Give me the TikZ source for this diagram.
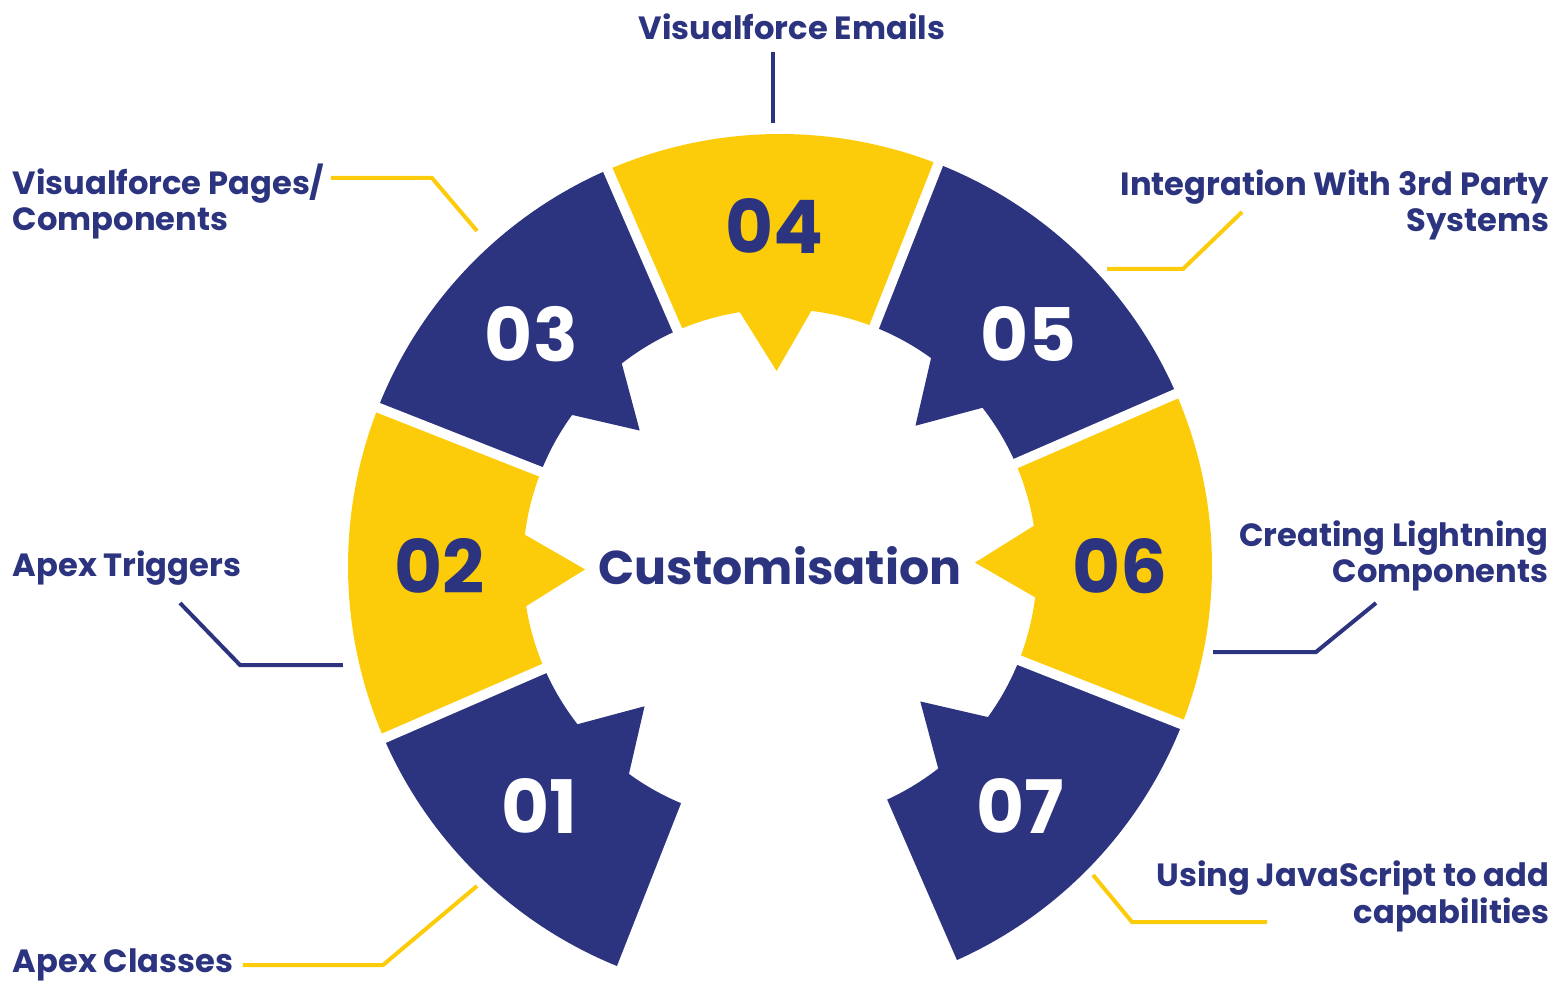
\documentclass[tikz,border=0pt]{standalone}
\usepackage{fontspec}
\setmainfont{Poppins}
\usepackage{tikz}
\usetikzlibrary{calc}
\definecolor{navy}{HTML}{2C3480}
\definecolor{gold}{HTML}{FCCC0A}

\begin{document}
\begin{tikzpicture}[x=0.1mm, y=0.1mm, inner sep=0mm,
		num/.style={font=\fontsize{21}{21}\selectfont\bfseries},
		lab/.style={font=\fontsize{9.15}{10.5}\selectfont\bfseries, text=navy},
		lead/.style={line width=0.4mm}]
	\useasboundingbox (-780,-415) rectangle (787,566);
	\foreach \i/\a/\n/\f/\t in {1/226/225/navy/white, 2/181/180/gold/navy, 3/136/137/navy/white, 4/91/91/gold/navy, 5/46/43/navy/white, 6/1/0/gold/navy, 7/-44/-45/navy/white} {
		\fill[\f] ({\a-22.5}:432) arc[start angle=\a-22.5, end angle=\a+22.5, radius=432]
			-- ({\a+22.5}:257) arc[start angle=\a+22.5, end angle=\a+8, radius=257]
			-- (\a:195) -- ({\a-8}:257) arc[start angle=\a-8, end angle=\a-22.5, radius=257] -- cycle;
		\node[num, text=\t] (n\i) at (\n:340) {0\i};
	}
	\foreach \b in {-66.5,-21.5,...,248.5}
		\draw[white, line width=1mm] (\b:235) -- (\b:450);
	\node[font=\fontsize{13.5}{13.5}\selectfont\bfseries, text=navy] (c) at (0,0) {Customisation};

	\node[lab, anchor=base] (t4) at (12,526) {Visualforce Emails};
	\node[lab, anchor=base west, align=left] (t3) at (-768,335) {Visualforce Pages/\\Components};
	\node[lab, anchor=base east, align=right] (t5) at (770,334) {Integration With 3rd Party\\Systems};
	\node[lab, anchor=base west] (t2) at (-768,-11) {Apex Triggers};
	\node[lab, anchor=base east, align=right] (t6) at (769,-17) {Creating Lightning\\Components};
	\node[lab, anchor=base east, align=right] (t7) at (770,-357) {Using JavaScript to add\\capabilities};
	\node[lab, anchor=base west] (t1) at (-768,-406) {Apex Classes};

	\coordinate (a4) at (-7,514); \coordinate (e4) at (-7,443);
	\coordinate (a3) at (-449,388); \coordinate (b3) at (-348,388); \coordinate (e3) at (-303,335);
	\coordinate (a5) at (462,354); \coordinate (b5) at (403,297); \coordinate (e5) at (327,297);
	\coordinate (a2) at (-600,-37); \coordinate (b2) at (-540,-99); \coordinate (e2) at (-437,-99);
	\coordinate (a6) at (596,-37); \coordinate (b6) at (536,-86); \coordinate (e6) at (433,-86);
	\coordinate (a7) at (487,-356); \coordinate (b7) at (352,-356); \coordinate (e7) at (313,-309);
	\coordinate (a1) at (-537,-399); \coordinate (b1) at (-397,-399); \coordinate (e1) at (-303,-320);
	\draw[lead, navy] (a4) -- (e4);
	\draw[lead, gold] (a3) -- (b3) -- (e3);
	\draw[lead, gold] (a5) -- (b5) -- (e5);
	\draw[lead, navy] (a2) -- (b2) -- (e2);
	\draw[lead, navy] (a6) -- (b6) -- (e6);
	\draw[lead, gold] (a7) -- (b7) -- (e7);
	\draw[lead, gold] (a1) -- (b1) -- (e1);
\end{tikzpicture}
\end{document}
